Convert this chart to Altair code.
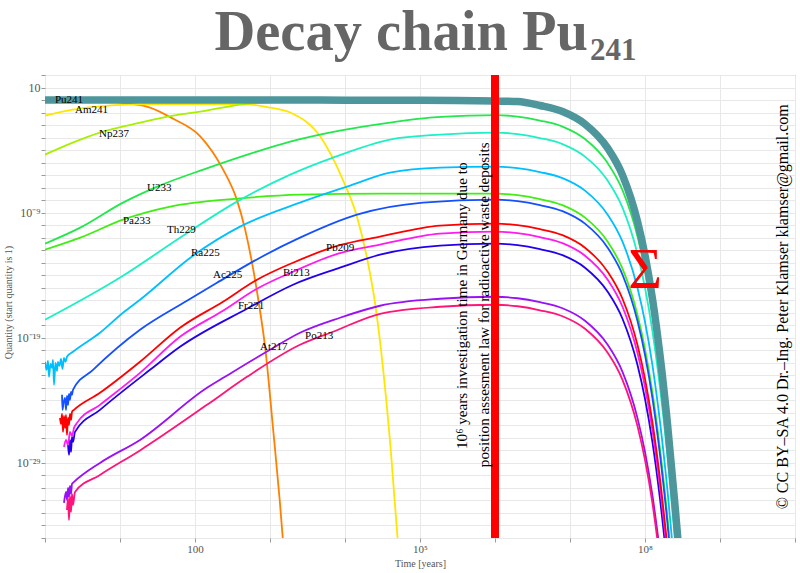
import altair as alt
import pandas as pd

FONT = "Liberation Serif"

# ---------------- data: log10(time in years), log10(quantity) ----------------
DROP_LOG_T = [6.3, 6.6, 6.9, 7.2, 7.5, 7.7, 7.9, 8.0, 8.1, 8.2, 8.3, 8.4, 8.45]

SUM_LOG_T = [0, 1, 2, 3, 4, 5, 5.5, 6.0]
SUM_LOG_Q = [0, 0, 0, 0, -0.01, -0.02, -0.04, -0.08]
SUM_DROP_Q = [-0.12, -0.44, -0.92, -1.92, -3.82, -6.0, -9.7, -12.4, -15.9, -20.4, -25.9, -32.4, -35.9]

PU241_LOG_T = [0, 0.5, 0.73, 1.11, 1.4, 1.71, 2.07, 2.37, 2.56, 2.67, 2.76, 2.84, 2.94, 3.04, 3.13, 3.19]
PU241_LOG_Q = [0, -0.02, -0.05, -0.28, -0.6, -1.5, -2.9, -5.5, -8.0, -10.4, -13.0, -15.8, -20.0, -26.2, -32.0, -36.5]

AM241_LOG_T = [0, 0.37, 0.73, 1.11, 1.6, 2.16, 2.69, 3.0, 3.27, 3.67, 3.97, 4.16, 4.29, 4.4, 4.48, 4.61, 4.72]
AM241_LOG_Q = [-1.24, -0.76, -0.5, -0.36, -0.32, -0.32, -0.34, -0.6, -1.0, -2.92, -6.36, -9.32, -12.52, -16.2, -19.96, -27.96, -36.5]

NP237_LOG_T = [0, 0.37, 0.73, 1.27, 1.71, 2.07, 2.69, 3.4, 4.5, 5.5, 6.0]
NP237_LOG_Q = [-4.36, -3.4, -2.6, -1.8, -1.24, -0.92, -0.3, -0.1, -0.05, -0.07, -0.11]
NP237_DROP_Q = [-0.15, -0.47, -0.95, -1.95, -3.85, -6.03, -9.73, -12.43, -15.93, -20.43, -25.93, -32.43, -35.93]

PA233_LOG_T = [0, 0.47, 1.04, 1.67, 2.56, 3.4, 4.5, 6.0]
PA233_LOG_Q = [-11.96, -11.0, -9.56, -8.52, -7.88, -7.56, -7.48, -7.48]
PA233_DROP_Q = [-7.6, -7.92, -8.4, -9.4, -11.3, -13.48, -17.18, -19.88, -23.38, -27.88, -33.38, -39.88]

U233_LOG_T = [0, 0.47, 1.04, 1.53, 2.11, 2.73, 3.27, 3.93, 4.6, 5.13, 5.67, 6.0]
U233_LOG_Q = [-11.48, -10.2, -8.2, -6.84, -5.56, -4.3, -3.32, -2.44, -1.8, -1.4, -1.24, -1.2]
U233_DROP_Q = [-1.32, -1.64, -2.12, -3.12, -5.02, -7.2, -10.9, -13.6, -17.1, -21.6, -27.1, -33.6, -37.1]

TH229_LOG_T = [0, 1.04, 1.8, 2.56, 3.27, 3.84, 4.6, 5.27, 6.0]
TH229_LOG_Q = [-17.56, -14.04, -11.0, -8.12, -5.96, -4.6, -3.16, -2.76, -2.6]
TH229_DROP_Q = [-2.72, -3.04, -3.52, -4.52, -6.42, -8.6, -12.3, -15.0, -18.5, -23.0, -28.5, -35.0, -38.5]

RA225_LOG_T = [0, 0.02, 0.04, 0.053, 0.073, 0.093, 0.107, 0.12, 0.14, 0.16, 0.173, 0.193, 0.213, 0.233,
               0.253, 0.273, 0.293, 0.373, 0.733, 1.04, 1.267, 1.973, 2.6, 3.4, 4.027, 4.6, 5.267, 6.0]
RA225_LOG_Q = [-20.92, -21.56, -20.84, -22.12, -21.08, -21.4, -20.76, -22.76, -21.0, -21.64, -20.92, -21.24,
               -20.68, -21.48, -20.6, -20.92, -20.52, -20.12, -18.6, -17.0, -15.96, -12.44, -10.12, -8.2,
               -6.92, -5.8, -5.4, -5.32]
RA225_DROP_Q = [-5.44, -5.76, -6.24, -7.24, -9.14, -11.32, -15.02, -17.72, -21.22, -25.72, -31.22, -37.72]

AC225_LOG_T = [0.227, 0.233, 0.247, 0.267, 0.28, 0.293, 0.307, 0.32, 0.333, 0.347, 0.36,
               0.373, 0.64, 1.267, 1.893, 2.293, 2.867, 3.4, 4.16, 5.04, 6.0]
AC225_LOG_Q = [-23.56, -24.76, -24.2, -23.8, -24.76, -23.64, -24.36, -23.48, -23.96, -23.32, -23.56,
               -23.16, -21.56, -18.36, -16.04, -14.6, -12.6, -11.0, -9.16, -8.2, -7.96]
AC225_DROP_Q = [-8.08, -8.4, -8.88, -9.88, -11.78, -13.96, -17.66, -20.36, -23.86, -28.36, -33.86, -40.36]

FR221_LOG_T = [0.307, 0.32, 0.333, 0.347, 0.36, 0.373, 0.4, 0.733, 1.4, 1.8, 2.693, 3.307, 3.933, 4.467, 5.267, 6.0]
FR221_LOG_Q = [-27.56, -28.36, -27.16, -28.12, -26.92, -27.32, -26.52, -24.76, -21.56, -19.72, -16.68,
               -14.76, -13.4, -12.36, -11.64, -11.48]
FR221_DROP_Q = [-11.6, -11.92, -12.4, -13.4, -15.3, -17.48, -21.18, -23.88, -27.38, -31.88, -37.38]

AT217_LOG_T = [0.253, 0.28, 0.293, 0.307, 0.32, 0.333, 0.347, 0.36, 0.387, 0.733, 1.267, 2.16, 2.4, 3.0,
               3.4, 3.933, 4.467, 5.267, 6.0]
AT217_LOG_Q = [-32.2, -31.32, -31.96, -31.0, -31.72, -30.84, -31.48, -30.68, -30.52, -29.0, -27.16, -23.0,
               -22.12, -19.96, -18.6, -17.4, -16.44, -15.88, -15.72]
AT217_DROP_Q = [-15.84, -16.16, -16.64, -17.64, -19.54, -21.72, -25.42, -28.12, -31.62, -36.12]

BI213_LOG_T = [0.253, 0.28, 0.307, 0.333, 0.36, 0.387, 0.427, 0.733, 1.267, 1.8, 2.373, 2.827, 3.307,
               3.907, 4.467, 5.267, 6.0]
BI213_LOG_Q = [-27.72, -27.16, -27.56, -26.52, -26.84, -26.2, -25.8, -24.36, -21.8, -18.92, -16.84, -15.08,
               -13.72, -12.28, -11.56, -10.68, -10.52]
BI213_DROP_Q = [-10.64, -10.96, -11.44, -12.44, -14.34, -16.52, -20.22, -22.92, -26.42, -30.92, -36.42]

PO213_LOG_T = [0.293, 0.307, 0.32, 0.333, 0.347, 0.36, 0.373, 0.4, 0.733, 1.267, 2.16, 2.693, 3.4, 3.84,
               4.467, 5.267, 6.0]
PO213_LOG_Q = [-32.76, -31.8, -33.56, -31.64, -32.92, -31.48, -32.36, -31.32, -29.96, -28.0, -24.36, -22.12,
               -19.56, -18.52, -17.08, -16.52, -16.36]
PO213_DROP_Q = [-16.48, -16.8, -17.28, -18.28, -20.18, -22.36, -26.06, -28.76, -32.26, -36.76]

PB209_LOG_T = [0.2, 0.213, 0.227, 0.24, 0.253, 0.267, 0.28, 0.293, 0.307, 0.32, 0.333, 0.347, 0.36,
               0.387, 0.733, 1.267, 1.8, 2.373, 2.827, 3.307, 3.907, 4.467, 5.267, 6.0]
PB209_LOG_Q = [-25.4, -25.88, -25.08, -26.52, -25.24, -26.2, -25.16, -26.76, -25.4, -25.96, -25.08, -25.56,
               -24.92, -24.76, -23.4, -20.92, -18.2, -16.12, -14.36, -13.0, -11.64, -10.92, -10.04, -9.88]
PB209_DROP_Q = [-10.0, -10.32, -10.8, -11.8, -13.7, -15.88, -19.58, -22.28, -25.78, -30.28, -35.78]

SERIES = ["Pu241", "Am241", "Np237", "Pa233", "U233", "Th229", "Ra225", "Ac225",
          "Fr221", "At217", "Bi213", "Po213", "Pb209"]
COLORS = ["#FF7F00", "#FFE600", "#A8F000", "#40EE14", "#22E84C", "#1CF0C4", "#00BFFF", "#1450FF",
          "#2200EE", "#9A10F5", "#FF1AF0", "#FF1478", "#FF0000"]

LABEL_NAMES = ["Pu241", "Am241", "Np237", "U233", "Pa233", "Th229", "Ra225", "Ac225",
               "Fr221", "Bi213", "Pb209", "At217", "Po213"]
LABEL_LOG_T = [0.133, 0.4, 0.72, 1.36, 1.04, 1.627, 1.947, 2.24, 2.573, 3.173, 3.747, 2.867, 3.467]
LABEL_LOG_Q = [0.04, -0.76, -2.68, -7.0, -9.64, -10.36, -12.2, -13.96, -16.44, -13.8, -11.8, -19.72, -18.84]

NOTE_LINES = ["10\u2076 years investigation time in Germany due to",
              "position assesment law for radioactive waste deposits"]
NOTE_LOG_T = [5.56, 5.853]
NOTE_LOG_Q = [-16.44, -16.36]

LIMIT_YEARS = [1e6]
SIGMA_LOG_T = [8.0]
SIGMA_LOG_Q = [-13.7]
COPYRIGHT = ["\u00a9 CC BY\u2013SA 4.0 Dr.\u2013Ing. Peter Klamser klamser@gmail.com"]
COPY_LOG_T = [9.84]
COPY_LOG_Q = [-16.52]

TITLE_MAIN = ["Decay chain Pu"]
TITLE_SUB = ["241"]

# ---------------- assemble ----------------
curve_parts = {
    "Pu241": (PU241_LOG_T, PU241_LOG_Q, []),
    "Am241": (AM241_LOG_T, AM241_LOG_Q, []),
    "Np237": (NP237_LOG_T, NP237_LOG_Q, NP237_DROP_Q),
    "Pa233": (PA233_LOG_T, PA233_LOG_Q, PA233_DROP_Q),
    "U233": (U233_LOG_T, U233_LOG_Q, U233_DROP_Q),
    "Th229": (TH229_LOG_T, TH229_LOG_Q, TH229_DROP_Q),
    "Ra225": (RA225_LOG_T, RA225_LOG_Q, RA225_DROP_Q),
    "Ac225": (AC225_LOG_T, AC225_LOG_Q, AC225_DROP_Q),
    "Fr221": (FR221_LOG_T, FR221_LOG_Q, FR221_DROP_Q),
    "At217": (AT217_LOG_T, AT217_LOG_Q, AT217_DROP_Q),
    "Bi213": (BI213_LOG_T, BI213_LOG_Q, BI213_DROP_Q),
    "Po213": (PO213_LOG_T, PO213_LOG_Q, PO213_DROP_Q),
    "Pb209": (PB209_LOG_T, PB209_LOG_Q, PB209_DROP_Q),
}


def build_rows(name, lt, lq, drop):
    ts = list(lt) + DROP_LOG_T[:len(drop)]
    qs = list(lq) + list(drop)
    return [{"series": name, "i": k, "t": 10 ** a, "q": 10 ** b} for k, (a, b) in enumerate(zip(ts, qs))]


rows = []
for name in SERIES:
    lt, lq, dq = curve_parts[name]
    rows += build_rows(name, lt, lq, dq)
curves = pd.DataFrame(rows)
sum_df = pd.DataFrame(build_rows("Σ", SUM_LOG_T, SUM_LOG_Q, SUM_DROP_Q))

labels_df = pd.DataFrame({"name": LABEL_NAMES,
                          "t": [10 ** v for v in LABEL_LOG_T],
                          "q": [10 ** v for v in LABEL_LOG_Q]})
notes_df = pd.DataFrame({"text": NOTE_LINES,
                         "t": [10 ** v for v in NOTE_LOG_T],
                         "q": [10 ** v for v in NOTE_LOG_Q]})
limit_df = pd.DataFrame({"t": LIMIT_YEARS})
sigma_df = pd.DataFrame({"text": ["Σ"], "t": [10 ** v for v in SIGMA_LOG_T], "q": [10 ** v for v in SIGMA_LOG_Q]})
copy_df = pd.DataFrame({"text": COPYRIGHT, "t": [10 ** v for v in COPY_LOG_T], "q": [10 ** v for v in COPY_LOG_Q]})

# ---------------- scales & axes ----------------
x_expr = ("round(log(datum.value)/LN10) == 2 ? '100' : "
          "round(log(datum.value)/LN10) == 5 ? '10\u2075' : "
          "round(log(datum.value)/LN10) == 8 ? '10\u2078' : ''")
y_expr = ("round(log(datum.value)/LN10) == 1 ? '10' : "
          "round(log(datum.value)/LN10) == -9 ? '10\u207b\u2079' : "
          "round(log(datum.value)/LN10) == -19 ? '10\u207b\u00b9\u2079' : "
          "round(log(datum.value)/LN10) == -29 ? '10\u207b\u00b2\u2079' : ''")

X = alt.X("t:Q",
          scale=alt.Scale(type="log", domain=[1, 1e10], nice=False),
          axis=alt.Axis(values=[10 ** k for k in range(0, 11)], labelExpr=x_expr,
                        grid=True, gridColor="#e8e8e8", domain=False,
                        tickColor="#999999", tickSize=4, labelPadding=1,
                        labelFont=FONT, labelFontSize=11, labelColor="#555555",
                        labelOverlap=False, labelFlush=False,
                        title="Time [years]", titleFont=FONT, titleFontSize=10,
                        titleFontWeight="normal", titleColor="#555555",
                        titleY=20, titleBaseline="top"))
Y = alt.Y("q:Q",
          scale=alt.Scale(type="log", domain=[1e-35, 100], nice=False),
          axis=alt.Axis(values=[10.0 ** k for k in range(-35, 3)], labelExpr=y_expr,
                        grid=True, gridColor="#e8e8e8", domain=False,
                        tickColor="#999999", tickSize=4, labelPadding=1,
                        labelFont=FONT, labelFontSize=12, labelColor="#555555",
                        labelOverlap=False, labelFlush=False,
                        title="Quantity (start quantity is 1)", titleFont=FONT, titleFontSize=10,
                        titleFontWeight="normal", titleColor="#555555",
                        titleX=-37, titleY=227, titleAngle=270,
                        titleAlign="center", titleBaseline="middle"))

lines = alt.Chart(curves).mark_line(strokeWidth=1.8, clip=True, interpolate="monotone").encode(
    x=X, y=Y,
    color=alt.Color("series:N", scale=alt.Scale(domain=SERIES, range=COLORS), legend=None),
    detail="series:N",
    order="i:Q",
)

sum_line = alt.Chart(sum_df).mark_line(strokeWidth=7.5, clip=True, interpolate="monotone",
                                       color="#4D969C").encode(x=X, y=Y, order="i:Q")

label_text = alt.Chart(labels_df).mark_text(align="left", baseline="middle", font=FONT,
                                            fontSize=11, color="black").encode(x=X, y=Y, text="name:N")

limit_rule = alt.Chart(limit_df).mark_rule(color="#FF0000", strokeWidth=8).encode(x=X)

notes = alt.Chart(notes_df).mark_text(angle=270, align="center", baseline="middle", font=FONT,
                                      fontSize=15.2, color="black").encode(x=X, y=Y, text="text:N")

sigma = alt.Chart(sigma_df).mark_text(align="center", baseline="middle", font=FONT,
                                      fontSize=58, color="#FF0000").encode(x=X, y=Y, text="text:N")

copyright_text = alt.Chart(copy_df).mark_text(angle=270, align="center", baseline="middle", font=FONT,
                                              fontSize=16, color="black").encode(x=X, y=Y, text="text:N")

title_main = alt.Chart(pd.DataFrame({"text": TITLE_MAIN})).mark_text(
    align="right", baseline="alphabetic", font=FONT, fontSize=56.5, fontWeight="bold", color="#666666"
).encode(text="text:N", x=alt.value(543), y=alt.value(-25))

title_sub = alt.Chart(pd.DataFrame({"text": TITLE_SUB})).mark_text(
    align="left", baseline="alphabetic", font=FONT, fontSize=31, fontWeight="bold", color="#666666"
).encode(text="text:N", x=alt.value(545), y=alt.value(-15))

chart = alt.layer(lines, sum_line, label_text, limit_rule, notes, sigma, copyright_text,
                  title_main, title_sub).properties(
    width=750, height=463,
    padding={"left": 45, "right": 5, "top": 75, "bottom": 35},
    autosize=alt.AutoSizeParams(type="none"),
    background="white",
).configure_view(stroke="#999999", strokeWidth=1)

chart.save("out.html", embed_options={"renderer": "svg", "actions": False})
